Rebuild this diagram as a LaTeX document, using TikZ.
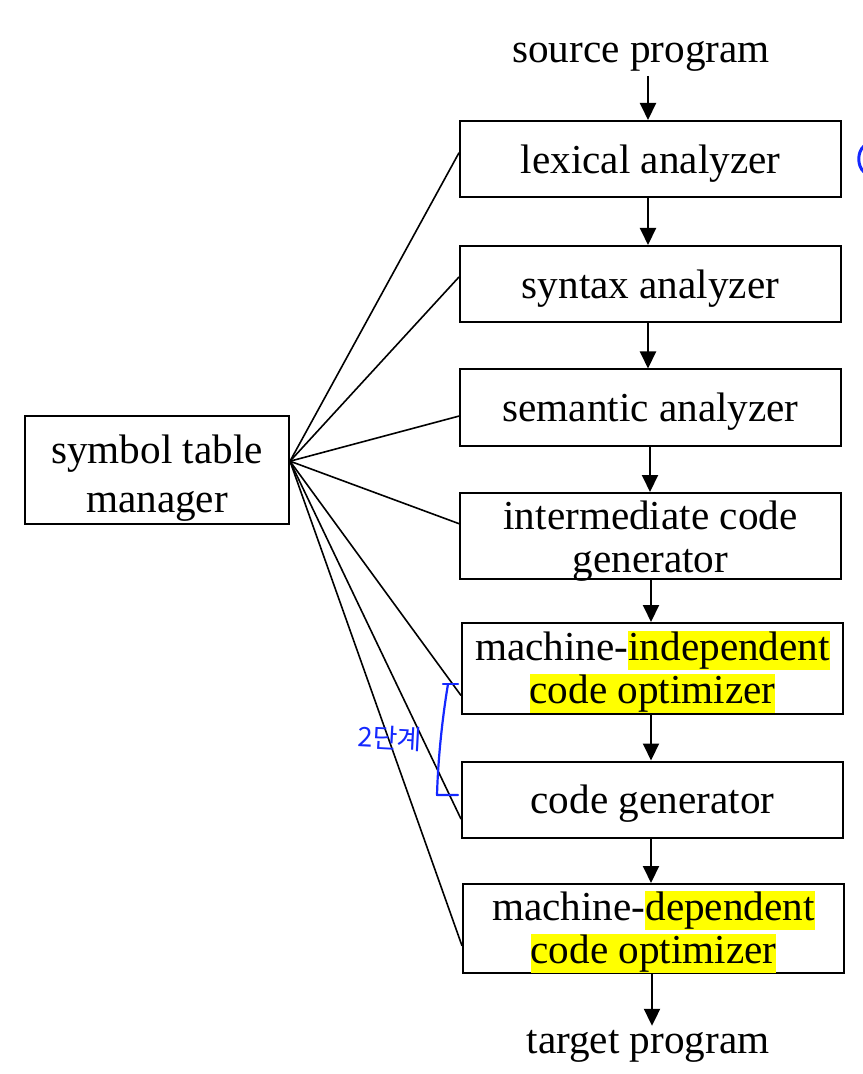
\documentclass[tikz,border=0pt]{standalone}
\usepackage{fontspec}
\setmainfont{Liberation Serif}
\newfontfamily\krfont{Noto Sans CJK KR}
\usepackage{tikz}
\usetikzlibrary{arrows.meta, positioning, calc}
\definecolor{hlyellow}{RGB}{255,255,0}
\definecolor{penblue}{RGB}{20,40,255}
\newcommand{\hl}[1]{{\setlength\fboxsep{0pt}\colorbox{hlyellow}{\rule[-0.22em]{0pt}{0.93em}#1}}}
\newcommand{\lift}[1]{\rule{0pt}{#1}}

\begin{document}
\begin{tikzpicture}[x=0.5pt, y=-0.5pt,
    phase/.style={draw=black, line width=1pt, fill=white, inner sep=0pt, align=center,
        font=\fontsize{20.6}{21.5}\selectfont, minimum width=190.5pt, minimum height=38pt},
    manager/.style={phase, minimum width=132pt, minimum height=54pt,
        font=\fontsize{20.6}{24.5}\selectfont},
    ends/.style={inner sep=0pt, outer sep=2pt, font=\fontsize{20.6}{21.5}\selectfont},
    sigarrow/.style={-{Triangle[width=8pt,length=8.5pt]}, line width=1pt, color=black},
    tabline/.style={line width=0.8pt, color=black},
    pen/.style={draw=penblue, line width=1.1pt, line cap=round, line join=round}
]
    \useasboundingbox (0,0) rectangle (862,1074);

    % compiler phases
    \node[ends, anchor=base, name=src] at(641,63) {source program};
    \node[phase, name=lex] at(650.5,159) {\lift{18.5pt}lexical analyzer};
    \node[phase, name=syn] at(650.5,284) {\lift{18.5pt}syntax analyzer};
    \node[phase, name=sem] at(650.5,407.5) {\lift{18.5pt}semantic analyzer};
    \node[phase, name=inter, minimum height=43pt, text depth=2pt] at(650.5,536) {\lift{17pt}intermediate code\\generator};
    \node[phase, name=mio, minimum height=45.5pt] at(652.5,668.5) {\lift{18pt}machine-\hl{independent}\\\hl{code optimizer}};
    \node[phase, name=cgen] at(652.5,799.5) {\lift{18.5pt}code generator};
    \node[phase, name=mdo, minimum height=44.5pt] at(653.5,928.5) {\lift{18pt}machine-\hl{dependent}\\\hl{code optimizer}};
    \node[ends, anchor=base, name=tgt] at(648,1053) {target program};

    \node[manager, name=sym] at(157,470) {\lift{22pt}symbol table\\manager};
    \coordinate (hub) at ($(sym.north east)!0.42!(sym.south east)$);

    % main flow
    \draw[sigarrow] (src.south -| 648,0) -- (lex.north -| 648,0);
    \draw[sigarrow] (lex.south -| 648,0) -- (syn.north -| 648,0);
    \draw[sigarrow] (syn.south -| 648,0) -- (sem.north -| 648,0);
    \draw[sigarrow] (sem.south -| 650,0) -- (inter.north -| 650,0);
    \draw[sigarrow] (inter.south -| 651,0) -- (mio.north -| 651,0);
    \draw[sigarrow] (mio.south -| 651,0) -- (cgen.north -| 651,0);
    \draw[sigarrow] (cgen.south -| 651,0) -- (mdo.north -| 651,0);
    \draw[sigarrow] (mdo.south -| 652,0) -- (tgt.north -| 652,0);

    % symbol table links
    \foreach \n/\f in {lex/0.42, syn/0.41, sem/0.61, inter/0.36, mio/0.79, cgen/0.75, mdo/0.69}
        \draw[tabline] (hub) -- ($(\n.north west)!\f!(\n.south west)$);

    % handwritten notes
    \draw[pen] (443,684) -- (458,684);
    \draw[pen] (448,684) .. controls (442,720) and (438,760) .. (437,795) -- (458,795);
    \node[text=penblue, font=\krfont\fontsize{13.5}{14}\selectfont, rotate=-3, name=note] at(390,738) {2단계};
    \draw[pen, line width=1.5pt] (864,146) .. controls (857,152) and (857,166) .. (864,172);
\end{tikzpicture}
\end{document}
